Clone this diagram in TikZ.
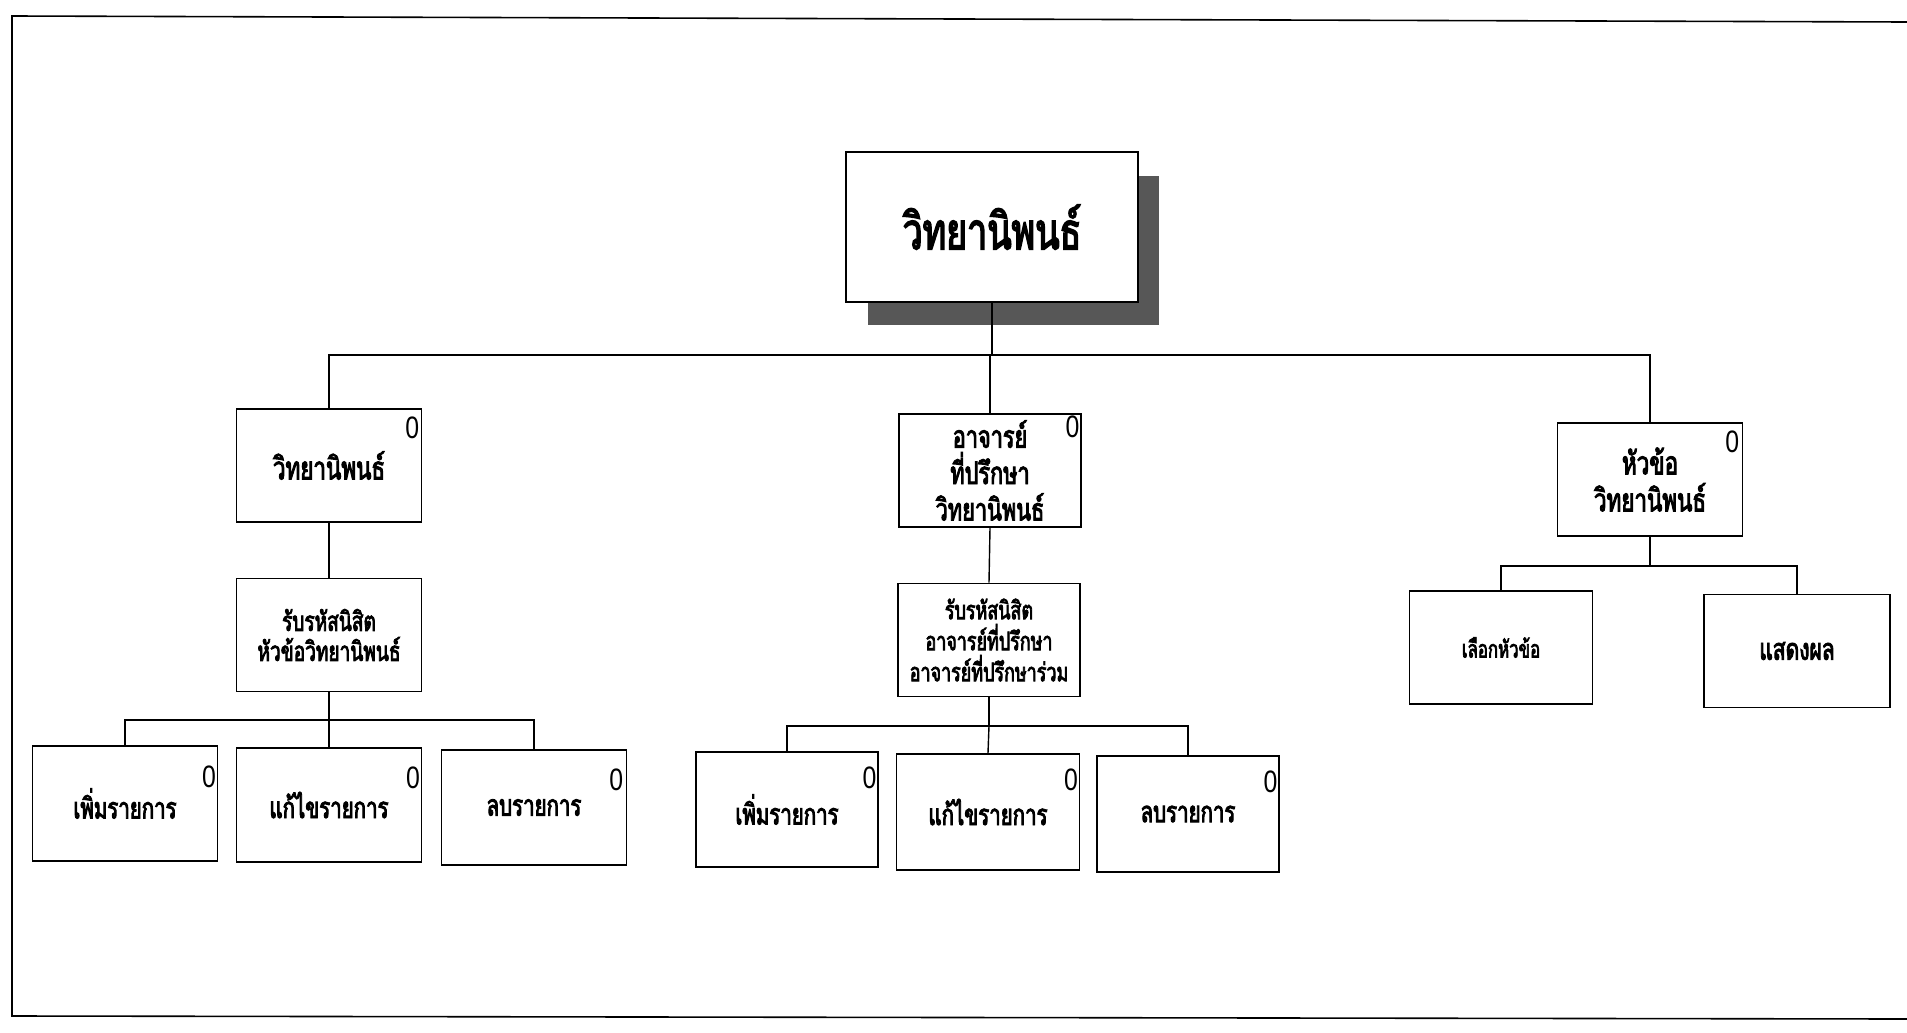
\documentclass[tikz,border=0pt]{standalone}
\usepackage{fontspec}
\newfontfamily\thaifont[Script=Thai,FakeStretch=0.7,FakeBold=3]{Loma}
\newfontfamily\digfont[FakeStretch=0.8]{Liberation Sans}
\newcommand\tsz[2]{\fontsize{#1}{#2}\selectfont}
\begin{document}
\begin{tikzpicture}[x=0.5pt,y=-0.5pt,
  box/.style={draw, line width=0.9pt, fill=white, minimum width=92.5pt, minimum height=56.5pt, align=center, inner sep=1pt},
  conn/.style={line width=0.7pt},
  zero/.style={inner sep=0.4pt, font=\digfont\tsz{15.5}{15.5}},
  shadowbox/.style={fill=black!66, inner sep=0pt, minimum width=145.5pt, minimum height=74.5pt}]
\useasboundingbox (0,0) rectangle (1907,1033);
\fill[white] (0,0) rectangle (1907,1033);
\draw[line width=0.8pt] (1907,22) -- (12,16) -- (12,1016) -- (1907,1019);

% top node with shadow
\node[shadowbox] (shadow) at (1013.5,250.5) {};
\node[box, minimum width=146pt, minimum height=75pt, font=\thaifont\tsz{25.5}{28}] (top) at (992,227) {วิทยานิพนธ์};

% level 2
\node[box, font=\thaifont\tsz{16}{20}] (l2a) at (329,465.5) {วิทยานิพนธ์};
\node[box, minimum width=91pt, font=\thaifont\tsz{15.5}{18.2}] (l2b) at (990,470.5) {อาจารย์\\ที่ปรึกษา\\วิทยานิพนธ์};
\node[box, font=\thaifont\tsz{16}{18.5}] (l2c) at (1650,479.5) {หัวข้อ\\วิทยานิพนธ์};

% level 3
\node[box, font=\thaifont\tsz{13.6}{15}] (l3a) at (329,635) {รับรหัสนิสิต\\หัวข้อวิทยานิพนธ์};
\node[box, minimum width=91pt, font=\thaifont\tsz{12.8}{15.5}] (l3b) at (989,640) {รับรหัสนิสิต\\อาจารย์ที่ปรึกษา\\อาจารย์ที่ปรึกษาร่วม};
\node[box, minimum width=91.5pt, font=\thaifont\tsz{12}{14}] (l3c1) at (1501,647.5) {เลือกหัวข้อ};
\node[box, minimum width=93pt, font=\thaifont\tsz{15}{16}] (l3c2) at (1797,651) {แสดงผล};

% level 4, left
\node[box, minimum height=57.5pt, font=\thaifont\tsz{14.6}{16}] (l4a1) at (125,803.5) {เพิ่มรายการ};
\node[box, minimum height=57pt, font=\thaifont\tsz{14.6}{16}] (l4a2) at (329,805) {แก้ไขรายการ};
\node[box, minimum height=57.5pt, font=\thaifont\tsz{14.6}{16}] (l4a3) at (534,807.5) {ลบรายการ};
% level 4, middle
\node[box, minimum width=91pt, minimum height=57.5pt, font=\thaifont\tsz{14.6}{16}] (l4b1) at (787,809.5) {เพิ่มรายการ};
\node[box, minimum width=91.5pt, minimum height=58pt, font=\thaifont\tsz{14.6}{16}] (l4b2) at (988,812) {แก้ไขรายการ};
\node[box, minimum width=91pt, minimum height=58pt, font=\thaifont\tsz{14.6}{16}] (l4b3) at (1188,814) {ลบรายการ};

% zero markers
\node[zero, anchor=north east] (z2a) at ([xshift=-1pt,yshift=-4pt]l2a.north east) {0};
\node[zero, anchor=north east] (z2b) at ([xshift=-0.6pt,yshift=-1pt]l2b.north east) {0};
\node[zero, anchor=north east] (z2c) at ([xshift=-1.5pt,yshift=-4pt]l2c.north east) {0};
\node[zero, anchor=north east] (z4a1) at ([xshift=-0.6pt,yshift=-10pt]l4a1.north east) {0};
\node[zero, anchor=north east] (z4a2) at ([xshift=-0.6pt,yshift=-9.5pt]l4a2.north east) {0};
\node[zero, anchor=north east] (z4a3) at ([xshift=-1.5pt,yshift=-9.5pt]l4a3.north east) {0};
\node[zero, anchor=north east] (z4b1) at ([xshift=-0.6pt,yshift=-7.5pt]l4b1.north east) {0};
\node[zero, anchor=north east] (z4b2) at ([xshift=-0.6pt,yshift=-7.5pt]l4b2.north east) {0};
\node[zero, anchor=north east] (z4b3) at ([xshift=-0.6pt,yshift=-7.5pt]l4b3.north east) {0};

% connectors
\coordinate (bus0) at (991,355);
\coordinate (bus1) at (329,720);
\coordinate (bus2) at (989,726);
\coordinate (bus3) at (1650,566);
\draw[conn] (top.south) -- (top.south |- bus0);
\draw[conn] (l2a.north) -- (l2a.north |- bus0) -- (l2c.north |- bus0) -- (l2c.north);
\draw[conn] (l2b.north) -- (l2b.north |- bus0);

\draw[conn] (l2a.south) -- (l3a.north);
\draw[conn] (l2b.south) -- (l3b.north);

\draw[conn] (l3a.south) -- (bus1);
\draw[conn] (l4a1.north) -- (l4a1.north |- bus1) -- (l4a3.north |- bus1) -- (l4a3.north);
\draw[conn] (bus1) -- (l4a2.north);

\draw[conn] (l3b.south) -- (bus2);
\draw[conn] (l4b1.north) -- (l4b1.north |- bus2) -- (l4b3.north |- bus2) -- (l4b3.north);
\draw[conn] (bus2) -- (l4b2.north);

\draw[conn] (l2c.south) -- (bus3);
\draw[conn] (l3c1.north) -- (l3c1.north |- bus3) -- (l3c2.north |- bus3) -- (l3c2.north);
\end{tikzpicture}
\end{document}
